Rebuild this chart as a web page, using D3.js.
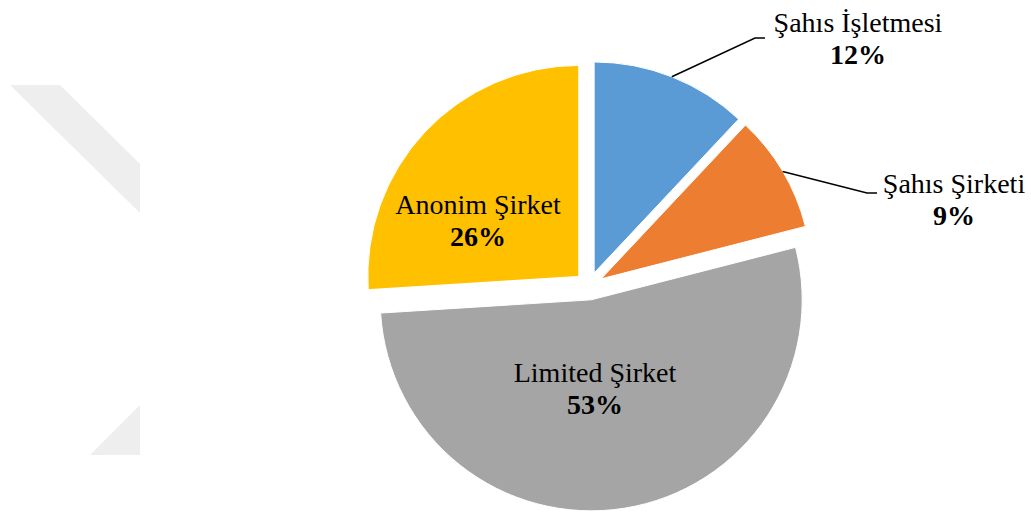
<!DOCTYPE html>
<html>
<head>
<meta charset="utf-8">
<script src="https://cdn.jsdelivr.net/npm/d3@7"></script>
<style>
    body { margin: 0; background: #fff; }
    svg text { font-family: "Liberation Serif", "Times New Roman", serif; fill: #000; }
</style>
</head>
<body>
<svg id="chart" width="1031" height="514"></svg>
<script>
//Data for the pie
let categories = ["Şahıs İşletmesi", "Şahıs Şirketi", "Limited Şirket", "Anonim Şirket"];
let values = [12, 9, 53, 26];
let colors = ["#5B9BD5", "#ED7D31", "#A5A5A5", "#FFC000"];
//Labels outside the pie get a leader line
let outside = [true, true, false, false];

let svg = d3.select("#chart");
let cx = 589, cy = 286, radius = 211, explode = 14;

//Faint watermark on the left
let wm = svg.append("g").attr("fill", "#eeeeee");
wm.append("polygon").attr("points", "10,85 60,85 140,164 140,213");
wm.append("polygon").attr("points", "90,455 140,455 140,405");

let data = categories.map((c, i) => ({ name: c, value: values[i], color: colors[i], outside: outside[i] }));
let pie = d3.pie().sort(null).value(d => d.value);
let arcs = pie(data);
let arc = d3.arc().innerRadius(0).outerRadius(radius);

//Offset of each slice along its middle angle
function shift(d, dist) {
    let a = (d.startAngle + d.endAngle) / 2;
    return [Math.sin(a) * dist, -Math.cos(a) * dist];
}

let g = svg.append("g").attr("transform", "translate(" + cx + "," + cy + ")");

g.selectAll("path.slice")
    .data(arcs)
    .enter().append("path")
    .attr("class", "slice")
    .attr("transform", d => "translate(" + shift(d, explode) + ")")
    .attr("d", arc)
    .attr("fill", d => d.data.color)
    .attr("stroke", "#fff")
    .attr("stroke-width", 1);

//Leader lines and labels
let labelPos = {
    "Şahıs İşletmesi": { x: 858, y: 32, line: [[765, 38], [755, 38]] },
    "Şahıs Şirketi": { x: 954, y: 193, line: [[877, 193], [867, 193]] },
    "Limited Şirket": { x: 595, y: 382 },
    "Anonim Şirket": { x: 478, y: 214 }
};

arcs.forEach(d => {
    let p = labelPos[d.data.name];
    if (d.data.outside) {
        let s = shift(d, explode);
        let e = shift(d, radius);
        let start = [cx + s[0] + e[0], cy + s[1] + e[1]];
        svg.append("path")
            .attr("d", d3.line()([start, p.line[1], p.line[0]]))
            .attr("fill", "none")
            .attr("stroke", "#000")
            .attr("stroke-width", 1.5);
    }
    let t = svg.append("text")
        .attr("text-anchor", "middle")
        .attr("font-size", 28);
    t.append("tspan").attr("x", p.x).attr("y", p.y).text(d.data.name);
    t.append("tspan").attr("x", p.x).attr("y", p.y + 32)
        .attr("font-weight", "bold")
        .text(d.data.value + "%");
});
</script>
</body>
</html>
